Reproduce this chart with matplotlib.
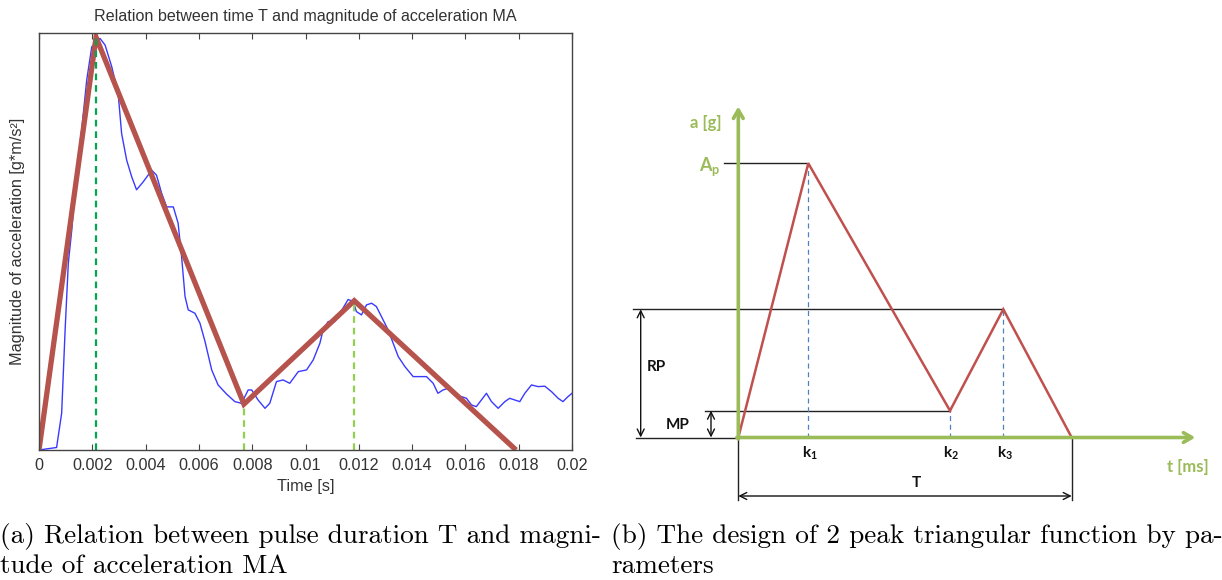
import numpy as np
import matplotlib
matplotlib.use('Agg')
import matplotlib.pyplot as plt

# measured pulse (normalised magnitude) and its 2-peak triangular fit
t_meas = [0, 0.00066, 0.00085, 0.00098, 0.0011, 0.00123, 0.00141, 0.0016, 0.00179, 0.00198,
          0.00229, 0.00248, 0.00273, 0.00297, 0.0031, 0.00329, 0.00348, 0.00366, 0.00391, 0.00423,
          0.00441, 0.0046, 0.00479, 0.00504, 0.00522, 0.00535, 0.00548, 0.0056, 0.00585, 0.00604,
          0.00623, 0.00648, 0.00672, 0.00704, 0.00735, 0.0076, 0.00785, 0.00798, 0.00822, 0.00848,
          0.00866, 0.00891, 0.00916, 0.00941, 0.00973, 0.01004, 0.01029, 0.01054, 0.01066, 0.01085,
          0.0111, 0.01129, 0.01148, 0.0116, 0.01179, 0.01191, 0.0121, 0.01229, 0.01248, 0.01266,
          0.01285, 0.0131, 0.01329, 0.01348, 0.01373, 0.01404, 0.01429, 0.01454, 0.01479, 0.01497,
          0.01516, 0.01535, 0.0156, 0.01585, 0.01604, 0.01623, 0.01641, 0.0166, 0.01679, 0.01698,
          0.01723, 0.01748, 0.01766, 0.01785, 0.01804, 0.01823, 0.01848, 0.01873, 0.01898, 0.01923,
          0.01948, 0.01966, 0.01985, 0.02]
ma_meas = [0, 0.006, 0.088, 0.288, 0.448, 0.528, 0.671, 0.767, 0.887, 0.967,
           0.987, 0.971, 0.919, 0.855, 0.759, 0.695, 0.655, 0.624, 0.643, 0.671,
           0.659, 0.616, 0.583, 0.583, 0.544, 0.464, 0.368, 0.336, 0.328, 0.304,
           0.26, 0.192, 0.156, 0.134, 0.116, 0.112, 0.144, 0.144, 0.12, 0.1,
           0.112, 0.164, 0.168, 0.16, 0.188, 0.192, 0.216, 0.256, 0.288, 0.308,
           0.308, 0.328, 0.348, 0.361, 0.356, 0.332, 0.324, 0.348, 0.352, 0.344,
           0.32, 0.288, 0.256, 0.224, 0.2, 0.176, 0.176, 0.176, 0.16, 0.136,
           0.144, 0.148, 0.132, 0.128, 0.124, 0.108, 0.104, 0.12, 0.136, 0.116,
           0.1, 0.116, 0.124, 0.12, 0.116, 0.136, 0.156, 0.152, 0.153, 0.14,
           0.124, 0.116, 0.128, 0.136]

t_fit = [0, 0.00214, 0.00769, 0.01183, 0.0179]
ma_fit = [0, 0.99, 0.11, 0.358, 0]

x_ticks = [0, 0.002, 0.004, 0.006, 0.008, 0.01, 0.012, 0.014, 0.016, 0.018, 0.02]
x_ticklabels = ['0', '0.002', '0.004', '0.006', '0.008', '0.01', '0.012', '0.014', '0.016', '0.018', '0.02']

# schematic of the 2-peak triangular function (arbitrary units)
k_names = ['k$_\\mathregular{1}$', 'k$_\\mathregular{2}$', 'k$_\\mathregular{3}$']
t_shape = [0, 7.0, 21.17, 26.5, 33.34]   # 0, k1, k2, k3, T
a_shape = [0, 27.42, 2.68, 12.82, 0]     # 0, Ap, MP, RP, 0

W, H = 1222, 580
fig = plt.figure(figsize=(W / 100, H / 100), dpi=100)

# ---- (a) measured pulse ----
ax = fig.add_axes([39 / W, 1 - 450 / H, 533 / W, 417 / H])
ax.plot(t_meas, ma_meas, color='#3a3aff', lw=1.0)
ax.plot(t_fit, ma_fit, color='#b5534c', lw=3.8, solid_capstyle='butt', solid_joinstyle='miter')
ax.vlines(t_fit[1], 0, ma_fit[1], colors='#00a651', linestyles=(0, (3, 2.2)), lw=1.6)
ax.vlines(t_fit[2:4], 0, ma_fit[2:4], colors='#92d050', linestyles=(0, (3, 2.2)), lw=1.6)
ax.set_xlim(0, 0.02)
ax.set_ylim(0, 1)
ax.set_xticks(x_ticks)
ax.set_xticklabels(x_ticklabels, family='Liberation Sans')
ax.set_yticks([])
ax.tick_params(axis='x', direction='in', top=True, length=4, width=0.8,
               labelsize=11.7, colors='#444444', labelcolor='#333333', pad=6)
for s in ax.spines.values():
    s.set_color('#444444')
    s.set_linewidth(1.0)
lab = dict(family='Liberation Sans', color='#333333')
ax.set_title('Relation between time T and magnitude of acceleration MA', fontsize=11.6, pad=9, **lab)
ax.set_xlabel('Time [s]', fontsize=11.7, labelpad=4, **lab)
ax.set_ylabel('Magnitude of acceleration [g*m/s²]', fontsize=11.7, labelpad=10, **lab)

# ---- (b) design diagram ----
bx = fig.add_axes([600 / W, 0, 622 / W, 1])
bx.set_xlim(-13.83, 48.37)
bx.set_ylim(-14.25, 43.75)
bx.axis('off')

green = '#9bbb59'
red = '#c0504d'
k1, k2, k3, T = t_shape[1], t_shape[2], t_shape[3], t_shape[4]
Ap, MP, RP = a_shape[1], a_shape[2], a_shape[3]

# reference lines
bx.plot([-1.4, k1], [Ap, Ap], color='#222222', lw=1.0)
bx.plot([-10.56, k3], [RP, RP], color='#222222', lw=1.0)
bx.plot([-3.33, k2], [MP, MP], color='#222222', lw=1.0)
bx.plot([-10.2, 0], [0, 0], color='#222222', lw=1.0)
bx.plot([0, 0], [0, -6.25], color='#222222', lw=1.0)
bx.plot([T, T], [0, -6.25], color='#222222', lw=1.0)
bx.vlines(t_shape[1:4], 0, a_shape[1:4], colors='#4f81bd', linestyles=(0, (4, 3)), lw=0.9)

dbl = dict(arrowstyle='<->,head_length=0.5,head_width=0.25', color='#111111', lw=1.0,
           shrinkA=0, shrinkB=0)
bx.annotate('', xy=(-9.76, 0), xytext=(-9.76, RP), arrowprops=dbl)
bx.annotate('', xy=(-2.73, 0), xytext=(-2.73, MP), arrowprops=dbl)
bx.annotate('', xy=(0, -5.85), xytext=(T, -5.85), arrowprops=dbl)

# axes arrows
ga = dict(arrowstyle='->,head_length=0.6,head_width=0.35', color=green, lw=2.6,
          shrinkA=0, shrinkB=0)
bx.annotate('', xy=(0, 33.1), xytext=(0, -0.15), arrowprops=ga)
bx.annotate('', xy=(45.7, 0), xytext=(-0.15, 0), arrowprops=ga)

# the triangular function
bx.plot(t_shape, a_shape, color=red, lw=1.8, solid_joinstyle='miter')

tb = dict(family=['Lato', 'DejaVu Sans'], weight='bold', ha='center', va='center')
bx.text(-3.23, 31.42, 'a [g]', color=green, fontsize=12, **tb)
bx.text(-2.83, 27.1, 'A$_\\mathregular{p}$', color=green, fontsize=13, **tb)
bx.text(45.0, -2.92, 't [ms]', color=green, fontsize=12, **tb)
bx.text(-8.23, 7.08, 'RP', color='#111111', fontsize=11, **tb)
bx.text(-6.1, 1.25, 'MP', color='#111111', fontsize=11, **tb)
for kx, kn in zip(t_shape[1:4], k_names):
    bx.text(kx + 0.15, -1.6, kn, color='#111111', fontsize=11, **tb)
bx.text(T / 2 + 1.1, -4.58, 'T', color='#111111', fontsize=11, **tb)

# captions
cap = dict(family='cmr10', fontsize=19.6, color='black', ha='left', va='center')
fig.text(0 / W, 1 - 537 / H, '(a) Relation between pulse duration T and magni-', **cap)
fig.text(0 / W, 1 - 566 / H, 'tude of acceleration MA', **cap)
fig.text(611 / W, 1 - 537 / H, '(b) The design of 2 peak triangular function by pa-', **cap)
fig.text(611 / W, 1 - 566 / H, 'rameters', **cap)

fig.savefig('out.png', dpi=100)
